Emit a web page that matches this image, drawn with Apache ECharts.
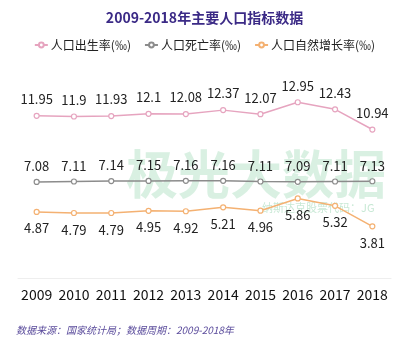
<!DOCTYPE html>
<html>
<head>
<meta charset="utf-8">
<script src="https://cdn.jsdelivr.net/npm/echarts@6/dist/echarts.min.js"></script>
<style>
  html, body { margin: 0; padding: 0; background: #fff; }
  #chart { width: 409px; height: 350px; }
</style>
</head>
<body>
<div id="chart"></div>
<script>
const years = ['2009', '2010', '2011', '2012', '2013', '2014', '2015', '2016', '2017', '2018']
const birthRate = [11.95, 11.9, 11.93, 12.1, 12.08, 12.37, 12.07, 12.95, 12.43, 10.94]
const deathRate = [7.08, 7.11, 7.14, 7.15, 7.16, 7.16, 7.11, 7.09, 7.11, 7.13]
const growthRate = [4.87, 4.79, 4.79, 4.95, 4.92, 5.21, 4.96, 5.86, 5.32, 3.81]

const font = '"Noto Sans CJK SC", "Noto Sans", sans-serif'
const chart = echarts.init(document.getElementById('chart'))

const makeSeries = (name, data, color, pos, dist) => ({
  name,
  type: 'line',
  data,
  symbol: 'circle',
  symbolSize: 5,
  itemStyle: { color: '#fff', borderColor: color, borderWidth: 1.2 },
  lineStyle: { color, width: 1.5 },
  label: {
    show: true,
    position: pos,
    distance: dist,
    color: '#222',
    fontSize: 13,
    fontFamily: font
  }
})

chart.setOption({
  backgroundColor: '#fff',
  textStyle: { fontFamily: font },
  title: {
    text: '2009-2018年主要人口指标数据',
    left: 'center',
    top: 6,
    textStyle: { color: '#3b2a86', fontSize: 14, fontWeight: 'bold', fontFamily: font }
  },
  legend: {
    top: 34,
    left: 'center',
    itemWidth: 13,
    itemHeight: 6,
    itemGap: 13,
    textStyle: { color: '#222', fontSize: 12, padding: [0, 0, 0, -2], fontFamily: font },
    data: ['人口出生率(‰)', '人口死亡率(‰)', '人口自然增长率(‰)']
  },
  graphic: [
    {
      type: 'text',
      left: 126,
      top: 148,
      z: -1,
      style: { text: '极光大数据', fill: 'rgba(130,205,160,0.3)', font: 'bold 52px "Noto Sans CJK SC"' }
    },
    {
      type: 'text',
      left: 262,
      top: 202,
      z: -1,
      style: { text: '纳斯达克股票代码：JG', fill: 'rgba(130,205,160,0.45)', font: '11px "Noto Sans CJK SC"' }
    },
    {
      type: 'text',
      left: 16,
      top: 325,
      style: { text: '数据来源：国家统计局；数据周期：2009-2018年', fill: '#5b4c9c', font: 'italic 10px "Noto Sans CJK SC"' }
    }
  ],
  grid: { left: 18, right: 18, top: 88, bottom: 72 },
  xAxis: {
    type: 'category',
    data: years,
    axisLine: { lineStyle: { color: '#eeeeee' } },
    axisTick: { show: false },
    axisLabel: { color: '#111', fontSize: 14, margin: 10, interval: 0, fontFamily: font }
  },
  yAxis: {
    type: 'value',
    min: 0,
    max: 14,
    show: false,
    splitLine: { show: false }
  },
  series: [
    makeSeries('人口出生率(‰)', birthRate, '#e6a4bf', 'top', 7),
    makeSeries('人口死亡率(‰)', deathRate, '#8c8c8c', 'top', 6),
    makeSeries('人口自然增长率(‰)', growthRate, '#f4b172', 'bottom', 7)
  ]
})
</script>
</body>
</html>
